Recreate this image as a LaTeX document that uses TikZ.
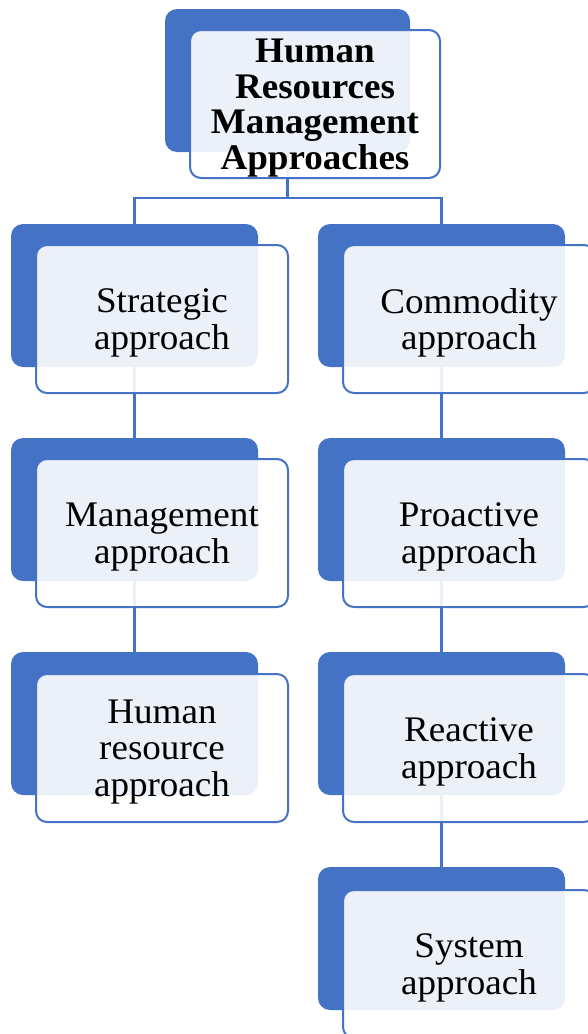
\documentclass[tikz,border=0pt]{standalone}
\usepackage{fontspec}
\setmainfont{Liberation Serif}[FakeStretch=1.03]
\usetikzlibrary{calc}
\definecolor{accent}{HTML}{4472C4}
\tikzset{
  backbox/.style={fill=accent, draw=none, rounded corners=12pt, anchor=north west,
    minimum width=247pt, minimum height=143pt, inner sep=0pt, outer sep=0pt},
  frontbox/.style={draw=accent, line width=2pt, fill=white, fill opacity=0.9,
    draw opacity=1, rounded corners=11pt, anchor=north west,
    minimum width=252pt, minimum height=148pt, inner sep=0pt, outer sep=0pt},
  cardtext/.style={align=center, inner sep=0pt, font=\fontsize{36}{36.5}\selectfont},
  titletext/.style={cardtext, font=\fontsize{36}{35.7}\selectfont\bfseries},
  link/.style={draw=accent, line width=2.4pt}
}
\begin{document}
\begin{tikzpicture}[x=1pt, y=-1pt]
\useasboundingbox (0,0) rectangle (588,1034);

% back plates
\node[backbox, minimum width=245pt] (topb) at (165,9) {};
\node[backbox] (l1b) at (11,224) {};
\node[backbox] (l2b) at (11,438) {};
\node[backbox] (l3b) at (11,652) {};
\node[backbox] (r1b) at (318,224) {};
\node[backbox] (r2b) at (318,438) {};
\node[backbox] (r3b) at (318,652) {};
\node[backbox] (r4b) at (318,867) {};

% connectors between the plates
\coordinate (split) at ($(topb.south)+(0,46)$);
\draw[link] (topb.south) -- (split) -| (l1b.north);
\draw[link] (split) -| (r1b.north);
\draw[link] (l1b.south) -- (l2b.north);
\draw[link] (l2b.south) -- (l3b.north);
\draw[link] (r1b.south) -- (r2b.north);
\draw[link] (r2b.south) -- (r3b.north);
\draw[link] (r3b.south) -- (r4b.north);

% translucent front cards with their text
\node[frontbox, minimum width=250pt] (top) at (190,30) {};
\node[titletext] (topt) at ($(top.center)+(0,4)$) {Human\\Resources\\Management\\Approaches};

\node[frontbox] (l1) at (36,245) {};
\node[cardtext] (l1t) at ($(l1.center)+(0,4)$) {Strategic\\approach};
\node[frontbox] (l2) at (36,459) {};
\node[cardtext] (l2t) at ($(l2.center)+(0,4)$) {Management\\approach};
\node[frontbox] (l3) at (36,674) {};
\node[cardtext] (l3t) at ($(l3.center)+(0,4)$) {Human\\resource\\approach};

\node[frontbox] (r1) at (343,245) {};
\node[cardtext] (r1t) at ($(r1.center)+(0,4)$) {Commodity\\approach};
\node[frontbox] (r2) at (343,459) {};
\node[cardtext] (r2t) at ($(r2.center)+(0,4)$) {Proactive\\approach};
\node[frontbox] (r3) at (343,674) {};
\node[cardtext] (r3t) at ($(r3.center)+(0,4)$) {Reactive\\approach};
\node[frontbox] (r4) at (343,890) {};
\node[cardtext] (r4t) at ($(r4.center)+(0,4)$) {System\\approach};
\end{tikzpicture}
\end{document}
